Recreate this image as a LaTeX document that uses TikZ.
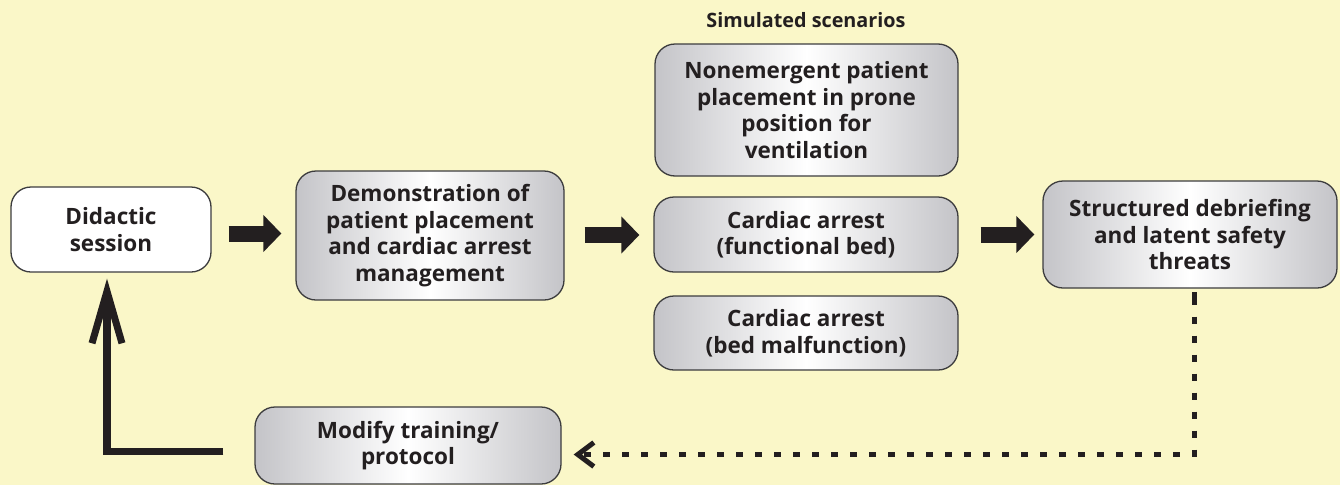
\documentclass[tikz,border=0pt]{standalone}
\usepackage{fontspec}
\setmainfont{Open Sans}
\usetikzlibrary{arrows.meta,calc,shadings}
\definecolor{bg}{RGB}{250,247,200}
\definecolor{ink}{RGB}{35,31,32}
\definecolor{boxgray}{RGB}{196,196,200}
\definecolor{edge}{RGB}{60,60,62}
\tikzset{
  box/.style={draw=edge, line width=1.3pt, rounded corners=20pt, align=center,
    text=ink, font=\bfseries\fontsize{22.5}{26.5}\selectfont, inner sep=2pt,
    left color=boxgray, right color=boxgray, middle color=white},
  plain/.style={box, fill=white, left color=white, right color=white, middle color=white},
  blockarrow/.style={draw=ink, line width=16pt, -{Triangle[length=18pt,width=36pt]}},
  loopback/.style={draw=ink, line width=7.5pt, -{Straight Barb[length=52pt,width=30pt,line width=7pt]}},
  dotted feedback/.style={draw=ink, line width=5pt, dash pattern=on 7pt off 12pt,
    -{Straight Barb[length=16pt,width=24pt,line width=5pt]}}
}
\begin{document}
\begin{tikzpicture}[x=1pt,y=-1pt]
\fill[bg] (0,0) rectangle (1340,485);
\useasboundingbox (0,0) rectangle (1340,485);

\node[box, plain, minimum width=200pt, minimum height=85pt] (did) at (111,229.5) {Didactic\\ session};
\node[box, minimum width=268pt, minimum height=129pt] (demo) at (430,235.5) {Demonstration of\\ patient placement\\ and cardiac arrest\\ management};
\node[font=\bfseries\fontsize{19.8}{22}\selectfont, text=ink] (sim) at (806,20) {Simulated scenarios};
\node[box, minimum width=303pt, minimum height=132pt] (non) at (806.5,110) {Nonemergent patient\\ placement in prone\\ position for\\ ventilation};
\node[box, minimum width=304pt, minimum height=75pt] (cf) at (806,234.5) {Cardiac arrest\\ (functional bed)};
\node[box, minimum width=304pt, minimum height=74pt] (cm) at (806,333) {Cardiac arrest\\ (bed malfunction)};
\node[box, minimum width=294pt, minimum height=107pt] (str) at (1190,234.5) {Structured debriefing\\ and latent safety\\ threats};
\node[box, minimum width=306pt, minimum height=77pt] (mod) at (408,445.5) {Modify training/\\ protocol};

\draw[blockarrow, shorten <=17pt, shorten >=14pt] ([yshift=-4pt]did.east) -- ([yshift=2pt]demo.west);
\draw[blockarrow, shorten <=20pt, shorten >=14pt] ([yshift=0.5pt]demo.east) -- ([yshift=-0.5pt]cf.west);
\draw[blockarrow, shorten <=22pt, shorten >=8pt] (cf.east) -- (str.west);

\coordinate (fbstart) at ($(mod.west)+(-31,6)$);
\draw[loopback] (fbstart) -| ([xshift=-4pt,yshift=-6pt]did.south);

\coordinate (corner) at ($(str.south)+(4,220)$);
\draw[dotted feedback] ([xshift=4pt,yshift=-10pt]str.south) -- (str.south -| corner) |- ([xshift=12pt,yshift=-9pt]mod.east);
\end{tikzpicture}
\end{document}
